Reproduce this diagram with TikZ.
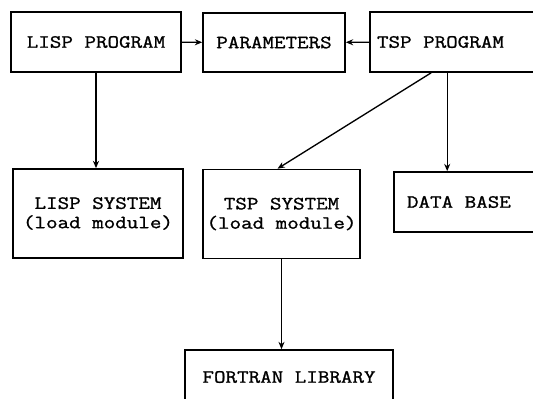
\documentclass[tikz,border=0pt]{standalone}
\usepackage{fontspec}
\setmonofont[FakeStretch=1.2,FakeBold=1.2]{Latin Modern Mono}
\usetikzlibrary{arrows.meta,calc}
\begin{document}
\begin{tikzpicture}[x=0.75pt,y=-0.75pt,
  box/.style={draw,line width=1.2pt,inner sep=0pt,font=\ttfamily\fontsize{14}{14.5}\selectfont},
  conn/.style={line width=1pt,-{Stealth[length=5.5pt,width=4.5pt]}}]
\useasboundingbox (0,0) rectangle (533,399);
\node[box,minimum width=170*0.75pt,minimum height=60*0.75pt] (lispprog) at (96,42) {LISP PROGRAM};
\node[box,minimum width=142*0.75pt,minimum height=59*0.75pt] (params) at (274,42.5) {PARAMETERS};
\node[box,minimum width=175*0.75pt,minimum height=60*0.75pt] (tspprog) at (457.5,42) {\makebox[120.75pt][l]{TSP PROGRAM}};
\node[box,minimum width=170*0.75pt,minimum height=89*0.75pt,align=center] (lispsys) at (98,213.5) {LISP SYSTEM\\(load module)};
\node[box,minimum width=157*0.75pt,minimum height=89*0.75pt,align=center] (tspsys) at (281.5,214) {TSP SYSTEM\\(load module)};
\node[box,minimum width=150*0.75pt,minimum height=60*0.75pt] (database) at (469,202) {\makebox[93pt][l]{DATA BASE}};
\node[box,minimum width=208*0.75pt,minimum height=54*0.75pt] (fortran) at (289,377) {FORTRAN LIBRARY};
\coordinate (t1) at ($(tspprog.south west)+(62,0)$);
\coordinate (t2) at ($(tspprog.south west)+(78,0)$);
\coordinate (s1) at ($(tspsys.north)+(-4,0)$);
\draw[conn] (lispprog) -- (params);
\draw[conn] (tspprog) -- (params);
\draw[conn] (lispprog.south) -- (lispprog.south |- lispsys.north);
\draw[conn] (t1) -- (s1);
\draw[conn] (t2) -- (t2 |- database.north);
\draw[conn] (tspsys.south) -- (tspsys.south |- fortran.north);
\end{tikzpicture}
\end{document}
